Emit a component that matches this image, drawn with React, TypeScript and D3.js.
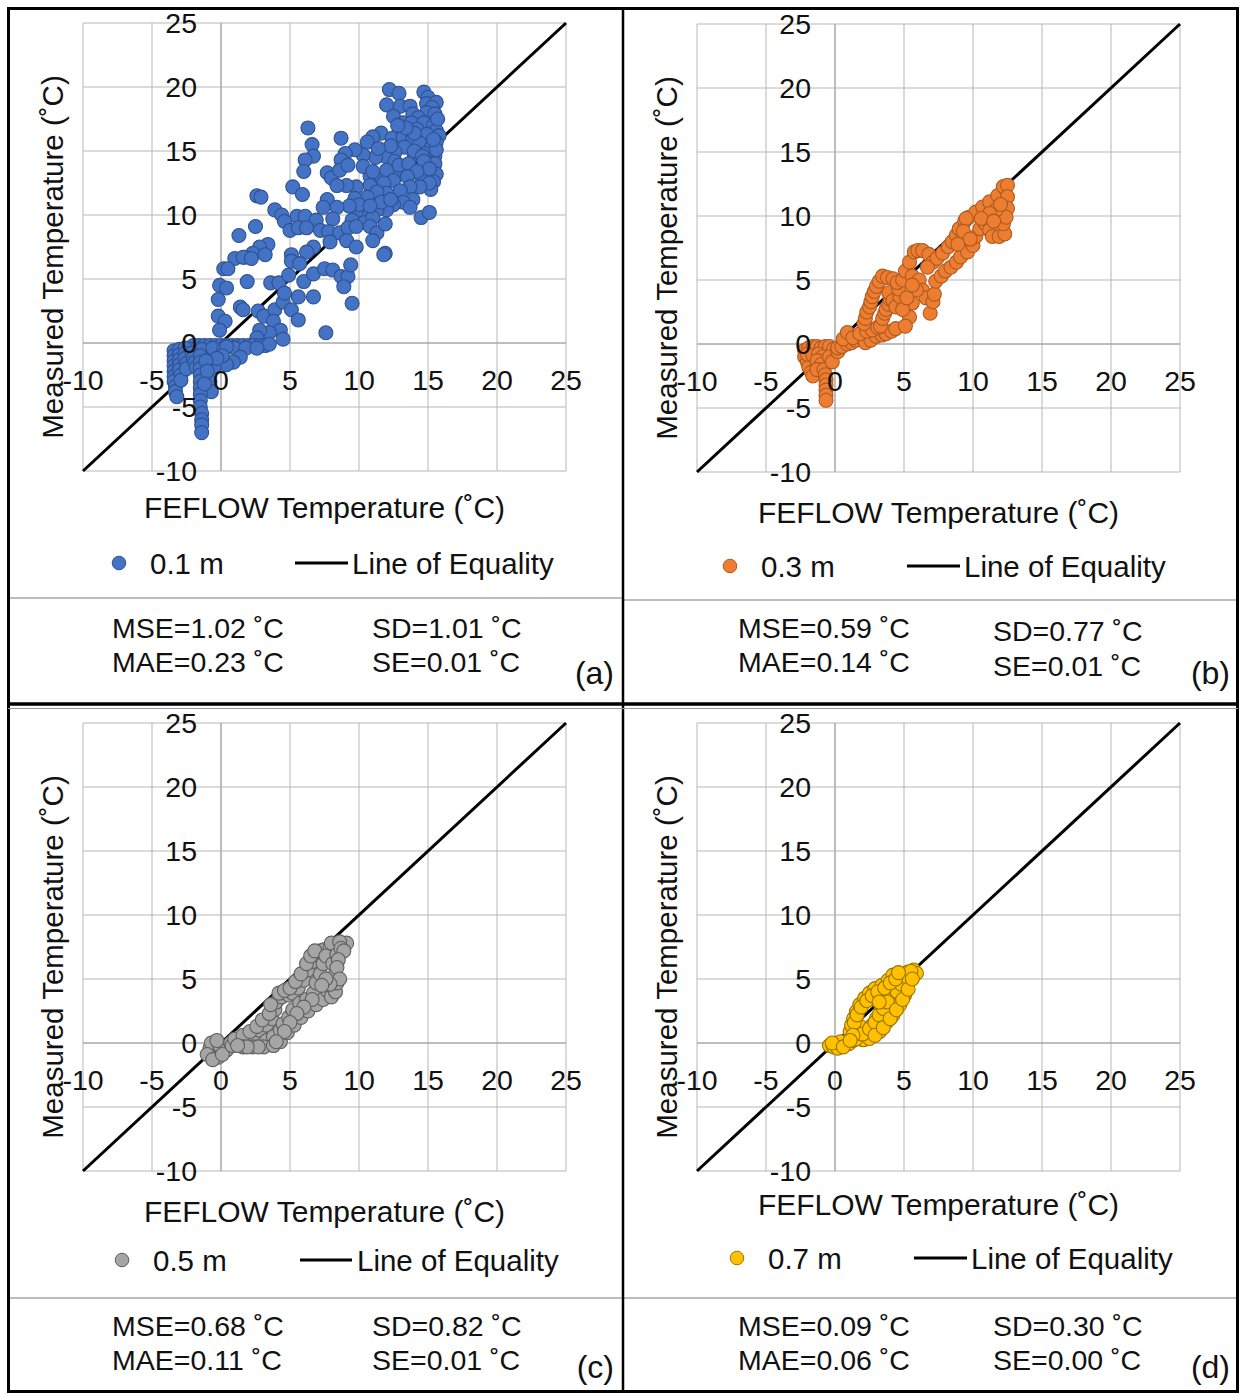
import React from 'react';
import * as d3 from 'd3';

// axis ticks shared by every panel
const TICKS = [-10, -5, 0, 5, 10, 15, 20, 25];
const DEPTHS = ['0.1 m', '0.3 m', '0.5 m', '0.7 m'];
const TAGS = ['(a)', '(b)', '(c)', '(d)'];
const MSE = [1.02, 0.59, 0.68, 0.09];
const MAE = [0.23, 0.14, 0.11, 0.06];
const SD = [1.01, 0.77, 0.82, 0.3];
const SE = [0.01, 0.01, 0.01, 0.0];

const depth01: [number, number][] = [
  [12.2, 19.8], [12.9, 19.5], [14.7, 19.6], [15.0, 19.2], [12.0, 18.6], [13.0, 18.5], [13.7, 18.5], [14.9, 18.7],
  [15.6, 18.8], [15.3, 18.4], [14.9, 18.0], [15.5, 17.9], [13.9, 17.9], [12.5, 17.7], [14.3, 17.6], [13.2, 17.2],
  [13.8, 17.2], [14.7, 17.2], [15.4, 17.0], [15.6, 16.6], [14.2, 16.7], [12.9, 16.5], [15.7, 17.5], [15.8, 16.2],
  [6.3, 16.8], [6.6, 15.5], [8.7, 16.0], [11.6, 16.4], [11.0, 16.1], [10.6, 15.7], [12.4, 16.0], [13.2, 16.1],
  [13.9, 16.0], [14.9, 16.3], [15.6, 15.7], [14.4, 15.6], [13.3, 15.3], [12.6, 14.9], [11.9, 14.6], [11.2, 14.5],
  [10.3, 14.7], [9.7, 15.1], [9.0, 14.8], [8.7, 14.3], [6.7, 14.6], [6.1, 14.3], [6.0, 13.4],
  [15.2, 15.2], [15.5, 14.6], [14.8, 14.8], [15.3, 14.0], [14.0, 14.7], [15.6, 15.1], [15.5, 14.0], [15.6, 13.2],
  [13.0, 13.2], [13.8, 13.6], [14.5, 13.0], [12.6, 14.2], [14.0, 15.0], [12.3, 15.4], [11.4, 15.2], [10.8, 13.0],
  [11.6, 13.0], [14.6, 14.6], [15.4, 15.9], [14.0, 16.4], [13.4, 16.8], [12.8, 17.0], [15.4, 12.6], [15.2, 12.0],
  [7.7, 13.3], [8.0, 12.9], [8.6, 13.5], [9.2, 13.9], [10.3, 13.8], [11.0, 13.4], [12.0, 13.5], [12.9, 13.9],
  [13.6, 14.0], [14.7, 14.2], [15.1, 13.6], [14.2, 13.4], [13.5, 13.0], [12.5, 12.7], [11.8, 12.5], [10.8, 12.3],
  [9.8, 12.2], [9.1, 12.3], [8.4, 12.3], [5.2, 12.2], [5.9, 11.6], [2.6, 11.5], [2.9, 11.4],
  [15.1, 12.5], [14.4, 12.2], [13.7, 12.2], [13.0, 11.9], [12.0, 11.7], [11.3, 11.8], [10.6, 11.4], [9.7, 11.3],
  [13.9, 11.2], [13.2, 11.0], [12.5, 10.8], [12.0, 10.4], [11.3, 10.4], [10.6, 10.1], [9.8, 10.3], [9.5, 9.6],
  [10.0, 10.8], [10.4, 9.4], [11.0, 9.8], [11.6, 11.0], [12.3, 11.2], [9.3, 10.7], [10.8, 10.7],
  [7.7, 11.2], [8.4, 10.6], [7.4, 10.6], [8.1, 9.7], [3.9, 10.4], [4.4, 10.0], [5.5, 9.9], [6.1, 9.9], [6.9, 9.6],
  [4.6, 9.5], [5.0, 8.8], [5.6, 9.0], [6.2, 9.0], [7.2, 8.8], [7.8, 8.7], [8.6, 8.6], [9.2, 9.0], [9.8, 9.1],
  [10.8, 9.1], [11.3, 8.6], [11.9, 9.3], [13.7, 10.6], [14.5, 9.8], [15.1, 10.2],
  [2.5, 9.1], [1.3, 8.4], [3.4, 7.7], [2.8, 7.5], [2.3, 7.0], [1.7, 6.7], [1.0, 6.6], [6.7, 7.5], [7.9, 7.9],
  [9.1, 8.0], [9.8, 7.5], [11.0, 8.0], [11.9, 7.0], [6.2, 7.1], [5.1, 6.9], [11.8, 6.9],
  [0.2, 5.8], [0.5, 5.8], [1.6, 6.7], [2.2, 6.6], [3.2, 6.9], [1.9, 4.8], [3.6, 4.7], [4.2, 4.7], [4.9, 5.3],
  [5.1, 6.4], [5.7, 6.2], [6.0, 4.8], [6.7, 5.4], [7.5, 5.8], [8.1, 5.7], [8.7, 5.2], [9.2, 5.2], [9.4, 6.1],
  [8.9, 4.4], [9.5, 3.1], [7.6, 0.8],
  [-0.1, 4.5], [0.4, 4.3], [-0.2, 3.4], [1.4, 2.8], [1.6, 2.6], [-0.2, 2.1], [0.3, 1.7], [-0.1, 1.0], [2.7, 2.5],
  [3.1, 2.1], [3.9, 2.6], [4.5, 3.2], [4.6, 3.9], [5.1, 2.6], [5.6, 1.8], [5.6, 3.6], [6.7, 3.6], [3.8, 1.7],
  [4.3, 1.0], [4.5, 0.3], [3.5, 0.8], [2.8, 1.0], [2.6, 0.4],
  [-2.0, -0.2], [-1.6, -0.2], [-1.2, -0.2], [-0.8, -0.2], [-0.4, -0.2], [0.0, -0.2], [0.4, -0.2], [0.8, -0.2],
  [1.2, -0.2], [1.6, -0.2], [2.0, -0.2], [2.4, -0.2], [2.8, -0.2], [3.2, -0.2], [3.5, -0.1],
  [-2.2, -0.5], [-1.4, -0.5], [-0.6, -0.4], [0.2, -0.4], [1.0, -0.4], [1.8, -0.4], [2.6, -0.4],
  [0.4, -0.3], [1.4, -1.1], [0.9, -1.5], [0.4, -1.7], [-0.5, -1.9], [-0.8, -3.0], [-0.7, -3.8], [0.1, -1.0], [-0.3, -1.2],
  [-3.4, -0.6], [-3.4, -1.0], [-3.4, -1.4], [-3.4, -1.8], [-3.4, -2.2], [-3.4, -2.6], [-3.4, -3.0], [-3.3, -3.4],
  [-3.3, -3.8], [-3.2, -4.2], [-3.0, -0.5], [-3.0, -0.9], [-3.0, -1.3], [-3.0, -1.7], [-3.0, -2.1], [-2.9, -2.5],
  [-2.9, -2.9], [-2.6, -0.4], [-2.6, -0.8], [-2.6, -1.2], [-2.5, -1.6], [-2.5, -2.0],
  [-2.1, -0.8], [-2.0, -1.2], [-1.9, -1.5], [-1.8, -1.9],
  [-1.5, -1.0], [-1.5, -1.5], [-1.5, -2.0], [-1.5, -2.5], [-1.5, -3.0], [-1.5, -3.5], [-1.5, -4.0], [-1.5, -4.5],
  [-1.5, -5.0], [-1.4, -5.5], [-1.4, -6.0], [-1.4, -6.4], [-1.4, -7.0], [-1.1, -1.4], [-1.0, -2.2], [-1.2, -3.2],
];

const depth03: [number, number][] = [
  [-2.2, -0.5], [-1.9, -0.3], [-1.6, -0.2], [-1.3, -0.2], [-1.0, -0.3], [-0.7, -0.2], [-0.4, -0.2], [-0.1, -0.4],
  [-2.2, -1.0], [-2.0, -1.4], [-1.9, -1.8], [-1.7, -2.2], [-1.6, -2.5], [-2.0, -0.8], [-1.6, -0.9], [-1.2, -0.8],
  [-0.9, -1.0], [-1.3, -1.3], [-1.0, -1.6], [-1.3, -2.0], [-0.8, -2.0],
  [-0.7, -2.4], [-0.65, -2.8], [-0.65, -3.2], [-0.65, -3.6], [-0.65, -4.0], [-0.65, -4.4],
  [-0.4, -1.0], [-0.2, -1.4], [0.2, -0.6],
  [0.2, -0.3], [0.5, -0.2], [0.9, 0.0], [1.2, 0.1], [1.5, 0.3], [1.9, 0.5], [2.2, 0.1], [2.6, 0.3], [3.0, 0.6],
  [3.4, 0.7], [3.7, 0.8], [4.1, 1.0], [4.4, 1.2], [0.6, 0.4], [0.9, 0.9], [1.3, 0.5], [1.8, 0.8], [2.3, 1.0],
  [2.7, 1.1], [3.1, 1.3],
  [2.1, 1.6], [2.2, 2.0], [2.3, 2.5], [2.5, 2.9], [2.6, 3.3], [2.7, 3.7], [2.85, 4.1], [3.0, 4.5], [3.2, 4.9],
  [3.45, 5.3], [3.8, 5.2], [4.2, 5.1],
  [3.3, 1.4], [3.45, 2.0], [3.6, 2.4], [3.7, 2.7], [3.9, 3.1], [4.0, 3.5], [3.9, 4.0], [4.2, 3.4], [4.4, 2.9],
  [4.7, 3.7], [4.6, 4.3], [4.5, 4.8],
  [4.9, 5.0], [5.1, 5.7], [5.4, 6.4], [5.75, 7.2], [6.0, 7.3], [6.35, 7.3], [6.8, 7.0], [7.1, 6.4], [6.7, 6.0],
  [5.6, 5.3], [6.1, 5.0], [6.35, 4.2], [6.6, 3.6], [6.9, 2.4], [7.1, 3.3], [7.2, 3.9], [5.9, 4.2], [5.6, 3.2],
  [5.4, 2.1], [5.1, 1.4], [4.9, 2.7], [5.2, 3.6], [5.6, 4.6],
  [7.3, 4.9], [7.7, 5.3], [8.0, 5.7], [8.4, 6.0], [8.8, 6.4], [9.1, 6.8], [9.6, 7.2], [10.0, 7.7], [10.2, 8.4],
  [10.5, 9.0], [10.9, 9.4], [11.2, 8.9], [11.4, 8.4], [11.9, 8.4], [12.3, 8.6], [12.2, 9.4],
  [7.4, 6.7], [7.8, 7.1], [8.2, 7.6], [8.5, 8.0], [8.8, 8.5], [9.0, 9.0], [9.4, 9.6], [9.7, 9.9], [10.2, 10.3],
  [10.7, 10.7], [11.2, 11.1], [11.8, 11.6], [12.2, 12.3], [12.5, 12.4], [12.5, 11.5], [12.5, 10.6], [12.4, 9.9],
  [11.7, 10.5], [11.2, 10.2], [9.5, 9.8], [9.3, 8.8], [8.9, 7.8], [9.8, 8.2], [10.6, 9.8], [11.5, 9.6], [12.0, 10.9],
];

const depth05: [number, number][] = [
  [-0.8, -0.4], [-0.55, -0.8], [-0.2, -1.1], [-0.7, 0.0], [-0.1, -0.2], [0.4, -0.55], [-0.3, 0.2], [-1.0, -0.9],
  [-0.6, -1.3], [0.1, -0.9], [0.7, 0.0],
  [0.8, -0.2], [1.3, 0.1], [1.9, 0.4], [2.3, 0.6], [2.8, 1.0], [3.3, 1.4], [3.7, 1.9], [3.9, 2.6], [4.0, 3.2],
  [4.4, 3.6], [4.9, 3.75], [5.2, 3.9], [5.6, 4.3], [6.0, 4.9], [6.3, 5.7], [6.6, 6.35], [6.9, 6.9], [7.2, 7.2],
  [7.5, 7.3], [7.9, 7.5], [8.3, 7.6], [8.7, 7.6], [9.1, 7.8],
  [1.0, 0.3], [1.6, 0.6], [2.1, 0.9], [2.6, 1.3], [3.0, 1.8], [3.5, 2.3], [3.6, 3.0], [4.2, 3.9], [4.6, 4.1],
  [5.0, 4.3], [5.4, 4.8], [5.8, 5.4], [6.2, 6.2], [6.5, 6.8], [6.8, 7.2], [8.0, 7.8], [8.6, 7.9],
  [3.3, 0.2], [3.8, 0.5], [4.3, 1.0], [4.5, 1.5], [4.9, 2.0], [5.2, 2.6], [5.7, 3.1], [6.2, 3.4], [6.7, 3.9],
  [6.9, 4.7], [7.2, 5.4], [7.4, 6.2], [7.6, 6.8],
  [1.6, -0.3], [2.3, -0.3], [3.1, -0.3], [3.8, -0.2], [4.3, 0.1], [4.8, 0.8], [5.3, 1.4], [5.8, 2.0], [6.3, 2.5],
  [6.9, 3.0], [7.4, 3.4], [7.7, 4.1], [8.0, 3.6], [8.3, 4.0], [8.4, 4.7], [8.3, 5.4], [8.1, 6.2], [8.4, 6.9], [8.7, 7.4],
  [8.9, 7.2], [8.5, 6.5], [8.4, 5.9], [8.6, 5.0], [7.9, 4.6], [7.6, 5.0], [7.3, 4.5], [6.6, 3.4], [6.0, 2.8],
  [5.5, 2.3], [5.0, 1.6], [4.6, 0.9], [4.0, 0.1], [2.7, -0.3], [1.9, -0.3], [1.2, -0.2],
];

const depth07: [number, number][] = [
  [-0.4, -0.2], [-0.1, -0.3], [0.2, -0.4], [0.4, 0.1], [-0.2, 0.0], [1.0, -0.05], [0.6, -0.3],
  [1.3, 0.2], [1.8, 0.5], [2.3, 0.9], [2.7, 1.4], [3.0, 1.9], [3.4, 2.5], [3.6, 3.0], [4.0, 3.4], [4.35, 3.75],
  [4.6, 4.3], [4.7, 4.8], [4.95, 5.3], [5.3, 5.55], [5.7, 5.7], [5.9, 5.45],
  [1.1, 0.9], [1.2, 1.4], [1.35, 1.9], [1.55, 2.45], [1.8, 3.0], [2.15, 3.5], [2.5, 3.9], [2.9, 4.25], [3.4, 4.5],
  [3.85, 4.9], [4.2, 5.3],
  [3.4, 3.5], [3.75, 3.9], [4.2, 4.4], [1.8, 1.3], [1.55, 0.65],
  [2.05, 0.25], [2.5, 0.35], [3.25, 0.9], [3.75, 1.65], [4.2, 2.2], [4.7, 3.0], [5.05, 3.75], [5.2, 4.5], [5.4, 5.0],
  [1.5, 0.3], [2.0, 0.7], [2.5, 1.1], [2.9, 1.6], [3.2, 2.2], [3.5, 2.7], [3.8, 3.2], [4.5, 4.0], [4.8, 4.6],
  [5.1, 5.2], [5.5, 5.6], [1.4, 1.6], [1.6, 2.2], [1.9, 2.8], [2.3, 3.3], [2.7, 3.7], [3.1, 4.0], [3.6, 4.3],
  [4.0, 4.7], [4.4, 5.0], [4.6, 5.5], [3.2, 3.2], [2.9, 0.6], [3.5, 1.2], [4.0, 1.9], [4.45, 2.6],
  [4.9, 3.4], [5.3, 4.2], [5.6, 5.0], [1.3, 0.6], [1.1, 0.2],
];

const SERIES = [depth01, depth03, depth05, depth07];
const FILLS = ['#4472C4', '#ED7D31', '#A5A5A5', '#FFC000'];
const STROKES = ['#2F528F', '#AE5A21', '#5F5F5F', '#9A7500'];

// where each panel sits in the 1248x1394 figure
const LAYOUT = [
  { left: 83, top: 23, xTitleY: 507, legY: 563, legX: [119, 150, 295, 348, 352], sepY: 598, sx: [112, 372], sy: [628, 662], sry: [628, 662], tagX: 614, tagY: 672, px: [8, 623] },
  { left: 697, top: 24, xTitleY: 512, legY: 566, legX: [730, 761, 907, 960, 964], sepY: 600, sx: [738, 993], sy: [628, 662], sry: [631, 666], tagX: 1230, tagY: 672, px: [623, 1238] },
  { left: 83, top: 723, xTitleY: 1211, legY: 1260, legX: [122, 153, 300, 352, 357], sepY: 1298, sx: [112, 372], sy: [1326, 1360], sry: [1326, 1360], tagX: 614, tagY: 1366, px: [8, 623] },
  { left: 697, top: 723, xTitleY: 1204, legY: 1258, legX: [737, 768, 914, 967, 971], sepY: 1298, sx: [738, 993], sy: [1326, 1360], sry: [1326, 1360], tagX: 1230, tagY: 1366, px: [623, 1238] },
];

const PW = 483;
const PH = 448;
const FONT = '"Liberation Sans", Arial, sans-serif';

const Panel = ({ i }: { i: number }) => {
  const L = LAYOUT[i];
  const x = d3.scaleLinear().domain([-10, 25]).range([L.left, L.left + PW]);
  const y = d3.scaleLinear().domain([-10, 25]).range([L.top + PH, L.top]);
  const data = SERIES[i];
  const eq = d3.line<number>().x(d => x(d)).y(d => y(d))([-10, 25]) || '';

  return (
    <g>
      {/* grid */}
      {TICKS.map(t => (
        <line key={'gx' + t} x1={x(t)} x2={x(t)} y1={y(-10)} y2={y(25)} stroke="#B7B7B7" strokeWidth={1} />
      ))}
      {TICKS.map(t => (
        <line key={'gy' + t} x1={x(-10)} x2={x(25)} y1={y(t)} y2={y(t)} stroke="#B7B7B7" strokeWidth={1} />
      ))}
      <line x1={x(0)} x2={x(0)} y1={y(-10)} y2={y(25)} stroke="#A0A0A0" strokeWidth={1} />
      <line x1={x(-10)} x2={x(25)} y1={y(0)} y2={y(0)} stroke="#A0A0A0" strokeWidth={1} />

      <path d={eq} stroke="#000" strokeWidth={3} fill="none" />

      {data.map((d, k) => (
        <circle key={k} cx={x(d[0])} cy={y(d[1])} r={7} fill={FILLS[i]} stroke={STROKES[i]} strokeWidth={1.1} />
      ))}

      {/* tick labels sit on the zero axes */}
      {TICKS.map(t => (
        <text key={'ly' + t} x={x(0) - 24} y={y(t)} dy="0.36em" textAnchor="end" fontSize={28.5}>{t}</text>
      ))}
      {TICKS.map(t => (
        <text key={'lx' + t} x={x(t)} y={y(0) + 37} dy="0.36em" textAnchor="middle" fontSize={28.5}>{t}</text>
      ))}

      <text transform={`translate(${L.left - 31},${L.top + 234}) rotate(-90)`} dy="0.36em" textAnchor="middle" fontSize={29.5}>
        Measured Temperature (˚C)
      </text>
      <text x={x(7.5)} y={L.xTitleY} dy="0.36em" textAnchor="middle" fontSize={30}>FEFLOW Temperature (˚C)</text>

      {/* legend */}
      <circle cx={L.legX[0]} cy={L.legY} r={6.8} fill={FILLS[i]} stroke={STROKES[i]} strokeWidth={1} />
      <text x={L.legX[1]} y={L.legY} dy="0.36em" fontSize={29.5}>{DEPTHS[i]}</text>
      <line x1={L.legX[2]} x2={L.legX[3]} y1={L.legY} y2={L.legY} stroke="#000" strokeWidth={3} />
      <text x={L.legX[4]} y={L.legY} dy="0.36em" fontSize={29.5}>Line of Equality</text>

      <line x1={L.px[0]} x2={L.px[1]} y1={L.sepY} y2={L.sepY} stroke="#A6A6A6" strokeWidth={1.5} />

      {/* error statistics */}
      <text x={L.sx[0]} y={L.sy[0]} dy="0.36em" fontSize={28.5}>{`MSE=${MSE[i].toFixed(2)} ˚C`}</text>
      <text x={L.sx[0]} y={L.sy[1]} dy="0.36em" fontSize={28.5}>{`MAE=${MAE[i].toFixed(2)} ˚C`}</text>
      <text x={L.sx[1]} y={L.sry[0]} dy="0.36em" fontSize={28.5}>{`SD=${SD[i].toFixed(2)} ˚C`}</text>
      <text x={L.sx[1]} y={L.sry[1]} dy="0.36em" fontSize={28.5}>{`SE=${SE[i].toFixed(2)} ˚C`}</text>
      <text x={L.tagX} y={L.tagY} dy="0.36em" textAnchor="end" fontSize={32}>{TAGS[i]}</text>
    </g>
  );
};

export default function App() {
  return (
    <svg
      width={1248}
      height={1394}
      style={{ position: 'absolute', left: 0, top: 0, background: '#fff' }}
      fontFamily={FONT}
      fill="#111"
    >
      <rect x={0} y={0} width={1248} height={1394} fill="#fff" />
      {LAYOUT.map((_, i) => <Panel key={i} i={i} />)}
      {/* frame */}
      <rect x={8.5} y={8.5} width={1229} height={1383} fill="none" stroke="#000" strokeWidth={3} />
      <line x1={623} x2={623} y1={8} y2={1392} stroke="#000" strokeWidth={2.5} />
      <line x1={8} x2={1238} y1={704} y2={704} stroke="#000" strokeWidth={3.5} />
      <line x1={8} x2={1238} y1={708.5} y2={708.5} stroke="#9A9A9A" strokeWidth={1} />
    </svg>
  );
}
